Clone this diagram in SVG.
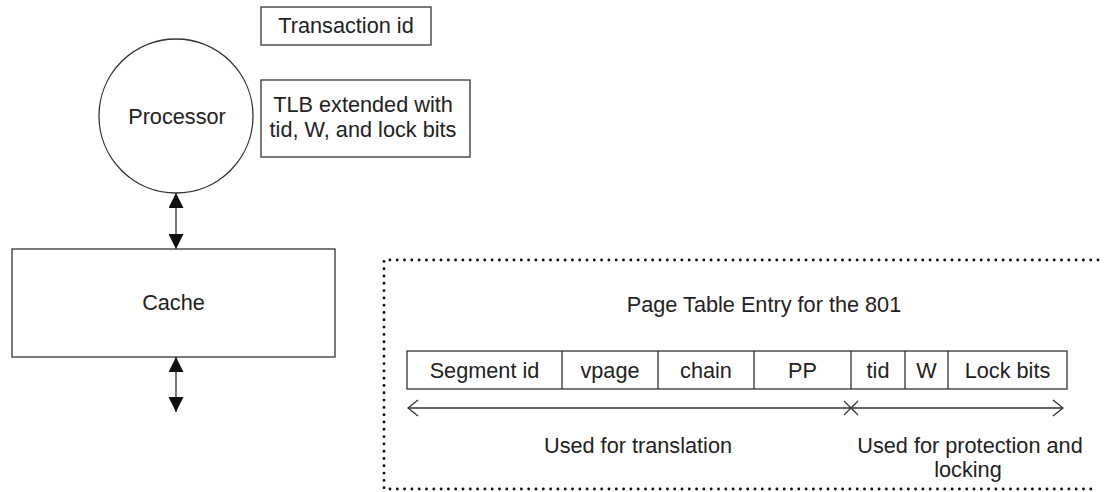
<svg xmlns="http://www.w3.org/2000/svg" width="1105" height="492" viewBox="0 0 1105 492">
<defs>
<style>
text{font-family:"Liberation Sans",Arial,sans-serif;font-size:21.7px;fill:#222;text-anchor:middle}
.box{fill:#fff;stroke:#333;stroke-width:1.3}
.ln{stroke:#333;stroke-width:1.3;fill:none}
.dot{stroke:#111;stroke-width:2.9;stroke-linecap:round;stroke-dasharray:0 7.3;fill:none}
</style>
<marker id="fa" viewBox="0 0 15 15" refX="15" refY="7.5" markerWidth="15" markerHeight="15" markerUnits="userSpaceOnUse" orient="auto-start-reverse">
<path d="M0,0 L15,7.5 L0,15 Z" fill="#111"/>
</marker>
<marker id="oa" viewBox="0 0 12 18" refX="11" refY="9" markerWidth="12" markerHeight="18" markerUnits="userSpaceOnUse" orient="auto-start-reverse">
<path d="M1,1 L11,9 L1,17" fill="none" stroke="#333" stroke-width="1.3"/>
</marker>
</defs>
<rect width="1105" height="492" fill="#fff"/>
<g id="transaction-id">
<rect class="box" x="261" y="7" width="170" height="38"/>
<text x="346" y="33">Transaction id</text>
</g>
<g id="processor">
<circle class="box" cx="176" cy="116" r="77"/>
<text x="177" y="124">Processor</text>
</g>
<g id="tlb">
<rect class="box" x="261" y="80" width="209" height="77"/>
<text x="363" y="112">TLB extended with</text>
<text x="363" y="137">tid, W, and lock bits</text>
</g>
<g id="cache">
<rect class="box" x="12" y="249" width="323" height="108"/>
<text x="173.5" y="310">Cache</text>
</g>
<g id="page-table-entry">
<path class="dot" d="M1098,260 H384 V489 H1098"/>
<text x="764" y="312">Page Table Entry for the 801</text>
<rect class="box" x="407" y="351" width="660" height="38"/>
<path class="ln" d="M562,351 V389 M658,351 V389 M754,351 V389 M851,351 V389 M905,351 V389 M948,351 V389"/>
<text x="484.5" y="378">Segment id</text>
<text x="610" y="378">vpage</text>
<text x="706" y="378">chain</text>
<text x="802.5" y="378">PP</text>
<text x="878" y="378">tid</text>
<text x="926.5" y="378">W</text>
<text x="1007.5" y="378">Lock bits</text>
<text x="638" y="453">Used for translation</text>
<text x="970" y="453">Used for protection and</text>
<text x="968" y="477">locking</text>
</g>
<g id="connectors">
<line class="ln" x1="176" y1="193" x2="176" y2="249" marker-start="url(#fa)" marker-end="url(#fa)"/>
<line class="ln" x1="176" y1="357" x2="176" y2="412" marker-start="url(#fa)" marker-end="url(#fa)"/>
<line class="ln" x1="408" y1="408" x2="851" y2="408" marker-start="url(#oa)"/>
<line class="ln" x1="851" y1="408" x2="1063" y2="408" marker-end="url(#oa)"/>
<path class="ln" d="M844,401 L858,415 M858,401 L844,415"/>
</g>
</svg>
